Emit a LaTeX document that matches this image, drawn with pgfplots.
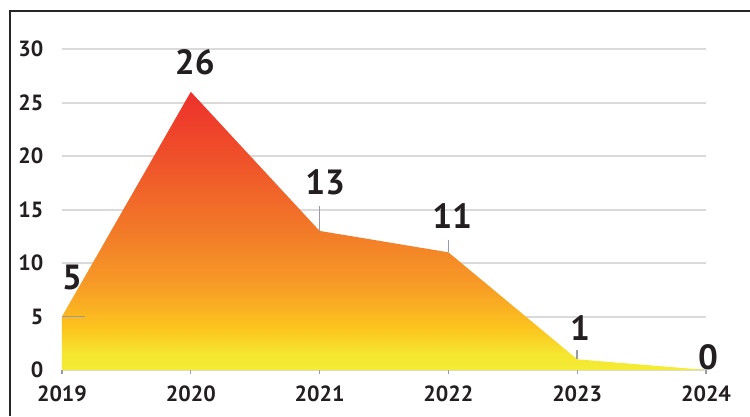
\documentclass[border=0pt]{standalone}
\usepackage{pgfplots}
\pgfplotsset{compat=1.18}
\usepackage{fontspec}
\setmainfont{PT Sans}
\definecolor{txt}{RGB}{35,31,32}
\definecolor{gridc}{RGB}{218,218,218}
\definecolor{lead}{RGB}{150,155,165}
\definecolor{c0}{RGB}{244,236,52}
\definecolor{c1}{RGB}{245,230,48}
\definecolor{c2}{RGB}{252,195,30}
\definecolor{c3}{RGB}{247,155,38}
\definecolor{c4}{RGB}{242,122,40}
\definecolor{c5}{RGB}{239,80,42}
\definecolor{c6}{RGB}{237,48,43}
\pgfdeclareverticalshading{areashade}{100bp}{color(0bp)=(c0); color(25bp)=(c0); color(27.9bp)=(c1); color(32.7bp)=(c2); color(40.4bp)=(c3); color(50bp)=(c4); color(63.5bp)=(c5); color(75bp)=(c6); color(100bp)=(c6)}
\begin{document}
\begin{tikzpicture}
\path[use as bounding box] (0,0) rectangle (300pt,166.4pt);
\draw[black!85, line width=0.8pt] (3.8pt,0) -- (3.8pt,162pt) -- (300pt,162pt);
\begin{axis}[
  at={(24.8pt,18.4pt)}, anchor=south west,
  scale only axis, width=257.6pt, height=128.4pt,
  xmin=2019, xmax=2024, ymin=0, ymax=30,
  xtick={2019,2020,2021,2022,2023,2024},
  ytick={0,5,10,15,20,25,30},
  axis line style={draw=none},
  ymajorgrids, grid style={gridc, line width=0.8pt},
  xtick pos=bottom, tick align=outside,
  major tick length=1.6pt,
  xtick style={lead, line width=0.5pt},
  ytick style={draw=none},
  tick label style={font=\fontsize{8.8}{10}\selectfont\bfseries, text=txt, inner sep=0pt},
  /pgf/number format/assume math mode=true,
  xticklabel style={/pgf/number format/1000 sep={}, anchor=north, yshift=-4.4pt},
  yticklabel style={anchor=east, xshift=-5.7pt},
  clip=false,
]
\addplot[draw=none, shade, shading=areashade] coordinates {(2019,5) (2020,26) (2021,13) (2022,11) (2023,1) (2024,0)} \closedcycle;
\draw[lead, line width=0.6pt] (axis cs:2019,5) -- ++(9.2pt,0pt);
\draw[lead, line width=0.6pt] (axis cs:2021,13) -- ++(0pt,10pt);
\draw[lead, line width=0.6pt] (axis cs:2022,11) -- ++(0pt,4.8pt);
\draw[lead, line width=0.6pt] (axis cs:2023,1) -- ++(0pt,3.6pt);
\tikzset{lab/.style={font=\fontsize{14}{16}\selectfont\bfseries, text=txt, inner sep=0pt, anchor=center}}
\node[lab, xshift=4pt, yshift=15.6pt] at (axis cs:2019,5) {5};
\node[lab, xshift=1.6pt, yshift=12pt] at (axis cs:2020,26) {26};
\node[lab, xshift=2.2pt, yshift=19.4pt] at (axis cs:2021,13) {13};
\node[lab, xshift=1.5pt, yshift=14.5pt] at (axis cs:2022,11) {11};
\node[lab, xshift=1.1pt, yshift=12.5pt] at (axis cs:2023,1) {1};
\node[lab, xshift=0.8pt, yshift=5.2pt] at (axis cs:2024,0) {0};
\end{axis}
\end{tikzpicture}
\end{document}
